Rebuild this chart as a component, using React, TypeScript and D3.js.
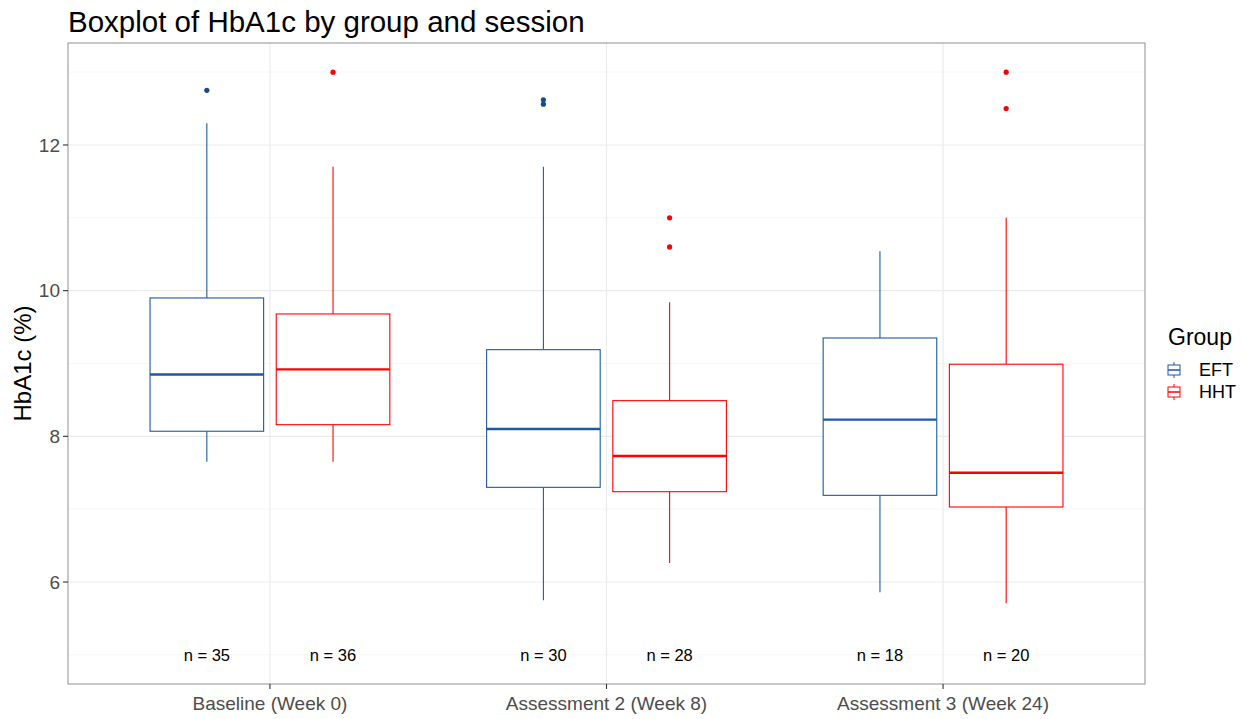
import { scaleLinear, scalePoint, scaleBand } from 'd3';

const categories = ['Baseline (Week 0)', 'Assessment 2 (Week 8)', 'Assessment 3 (Week 24)'];
const groups = ['EFT', 'HHT'];
const yTicks = [6, 8, 10, 12];
const yMinorTicks = [5, 7, 9, 11, 13];

// box stats, one entry per session
const eftLow = [7.65, 5.75, 5.86];
const eftQ1 = [8.07, 7.3, 7.19];
const eftMedian = [8.85, 8.1, 8.23];
const eftQ3 = [9.9, 9.19, 9.35];
const eftHigh = [12.3, 11.7, 10.54];
const eftOutliers = [[12.75], [12.62, 12.56], []];
const eftN = [35, 30, 18];

const hhtLow = [7.65, 6.26, 5.71];
const hhtQ1 = [8.16, 7.24, 7.03];
const hhtMedian = [8.92, 7.73, 7.5];
const hhtQ3 = [9.68, 8.49, 8.99];
const hhtHigh = [11.7, 9.84, 11.0];
const hhtOutliers = [[13.0], [11.0, 10.6], [13.0, 12.5]];
const hhtN = [36, 28, 20];

const colors: Record<string, string> = { EFT: '#1d5aa1', HHT: '#ff0000' };
const pointColors: Record<string, string> = { EFT: '#144c8c', HHT: '#ff0000' };

const width = 1256;
const height = 719;
const margin = { top: 43, right: 111, bottom: 35, left: 68 };
const font = '"Liberation Sans", Arial, Helvetica, sans-serif';

const series = [
  { group: 'EFT', low: eftLow, q1: eftQ1, med: eftMedian, q3: eftQ3, high: eftHigh, out: eftOutliers, n: eftN },
  { group: 'HHT', low: hhtLow, q1: hhtQ1, med: hhtMedian, q3: hhtQ3, high: hhtHigh, out: hhtOutliers, n: hhtN },
];

const App = () => {
  const x0 = margin.left;
  const x1 = width - margin.right;
  const y0 = height - margin.bottom;
  const y1 = margin.top;

  const yScale = scaleLinear().domain([4.6, 13.4]).range([y0, y1]);
  const xScale = scalePoint().domain(categories).range([x0, x1]).padding(0.6);
  const step = xScale.step();
  const dodge = scaleBand().domain(groups).range([-0.375 * step, 0.375 * step]);
  const boxW = dodge.bandwidth() * 0.9;

  return (
    <div style={{ position: 'absolute', left: 0, top: 0 }}>
      <svg width={width} height={height} style={{ display: 'block', background: '#fff' }} fontFamily={font}>
        {/* grid */}
        {yMinorTicks.map((t) => (
          <line key={'mn' + t} x1={x0} x2={x1} y1={yScale(t)} y2={yScale(t)} stroke="#f4f4f4" strokeWidth={0.8} />
        ))}
        {yTicks.map((t) => (
          <line key={'mj' + t} x1={x0} x2={x1} y1={yScale(t)} y2={yScale(t)} stroke="#ebebeb" strokeWidth={1.2} />
        ))}
        {categories.map((c) => (
          <line key={'vx' + c} x1={xScale(c)} x2={xScale(c)} y1={y1} y2={y0} stroke="#ebebeb" strokeWidth={1.2} />
        ))}

        {/* boxes */}
        {series.map((s) =>
          categories.map((c, i) => {
            const cx = (xScale(c) as number) + (dodge(s.group) as number) + dodge.bandwidth() / 2;
            const col = colors[s.group];
            return (
              <g key={s.group + c}>
                <line x1={cx} x2={cx} y1={yScale(s.high[i])} y2={yScale(s.q3[i])} stroke={col} strokeWidth={1.1} />
                <line x1={cx} x2={cx} y1={yScale(s.q1[i])} y2={yScale(s.low[i])} stroke={col} strokeWidth={1.1} />
                <rect
                  x={cx - boxW / 2}
                  y={yScale(s.q3[i])}
                  width={boxW}
                  height={yScale(s.q1[i]) - yScale(s.q3[i])}
                  fill="#fff"
                  stroke={col}
                  strokeWidth={1.1}
                />
                <line x1={cx - boxW / 2} x2={cx + boxW / 2} y1={yScale(s.med[i])} y2={yScale(s.med[i])} stroke={col} strokeWidth={2.4} />
                {s.out[i].map((v, j) => (
                  <circle key={j} cx={cx} cy={yScale(v)} r={2.6} fill={pointColors[s.group]} />
                ))}
                <text x={cx} y={yScale(5)} dy="0.35em" textAnchor="middle" fontSize={16.5} fill="#000">
                  {`n = ${s.n[i]}`}
                </text>
              </g>
            );
          }),
        )}

        {/* panel border */}
        <rect x={x0} y={y1} width={x1 - x0} height={y0 - y1} fill="none" stroke="#9a9a9a" strokeWidth={1.1} />

        {/* y axis */}
        {yTicks.map((t) => (
          <g key={'yt' + t}>
            <line x1={x0 - 5} x2={x0} y1={yScale(t)} y2={yScale(t)} stroke="#333" strokeWidth={1.1} />
            <text x={x0 - 8} y={yScale(t)} dy="0.35em" textAnchor="end" fontSize={19} fill="#4d4d4d">
              {t}
            </text>
          </g>
        ))}
        <text transform={`translate(31, ${(y0 + y1) / 2}) rotate(-90)`} textAnchor="middle" fontSize={24} fill="#000">
          HbA1c (%)
        </text>

        {/* x axis */}
        {categories.map((c) => (
          <g key={'xt' + c}>
            <line x1={xScale(c)} x2={xScale(c)} y1={y0} y2={y0 + 5} stroke="#333" strokeWidth={1.1} />
            <text x={xScale(c)} y={y0 + 26} textAnchor="middle" fontSize={19} fill="#4d4d4d">
              {c}
            </text>
          </g>
        ))}

        {/* title */}
        <text x={x0} y={32} fontSize={29.5} fill="#000">
          Boxplot of HbA1c by group and session
        </text>

        {/* legend */}
        <text x={1168} y={345} fontSize={23} fill="#000">
          Group
        </text>
        {groups.map((g, i) => {
          const cy = 370 + i * 22;
          const col = colors[g];
          return (
            <g key={'lg' + g}>
              <line x1={1174} x2={1174} y1={cy - 8} y2={cy + 8} stroke={col} strokeWidth={1} />
              <rect x={1168} y={cy - 5} width={12} height={10} fill="#fff" stroke={col} strokeWidth={1} />
              <line x1={1168} x2={1180} y1={cy} y2={cy} stroke={col} strokeWidth={1.5} />
              <text x={1199} y={cy} dy="0.35em" fontSize={18} fill="#000">
                {g}
              </text>
            </g>
          );
        })}
      </svg>
    </div>
  );
};

export default App;
